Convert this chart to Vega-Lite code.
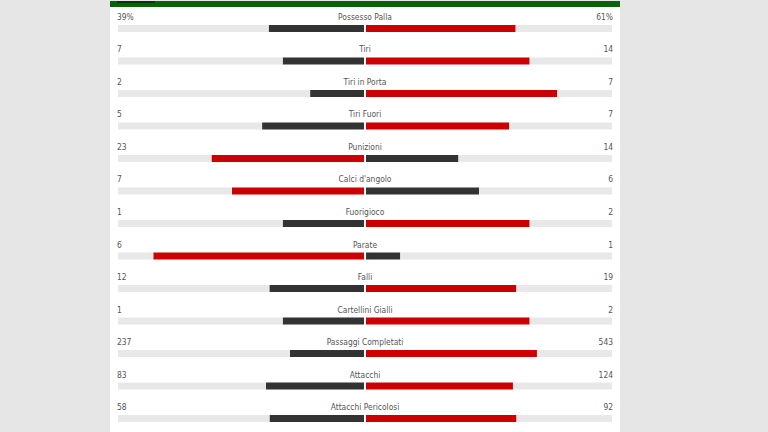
{
  "$schema": "https://vega.github.io/schema/vega-lite/v6.json",
  "width": 510,
  "height": 432,
  "padding": {"left": 110, "right": 148, "top": 0, "bottom": 0},
  "background": "#e6e6e6",
  "config": {"view": {"fill": "#ffffff", "stroke": null}},
  "data": {
    "values": [
      {"i": 0, "stat": "Possesso Palla", "home": 39, "away": 61, "homeLabel": "39%", "awayLabel": "61%"},
      {"i": 1, "stat": "Tiri", "home": 7, "away": 14, "homeLabel": "7", "awayLabel": "14"},
      {"i": 2, "stat": "Tiri in Porta", "home": 2, "away": 7, "homeLabel": "2", "awayLabel": "7"},
      {"i": 3, "stat": "Tiri Fuori", "home": 5, "away": 7, "homeLabel": "5", "awayLabel": "7"},
      {"i": 4, "stat": "Punizioni", "home": 23, "away": 14, "homeLabel": "23", "awayLabel": "14"},
      {"i": 5, "stat": "Calci d'angolo", "home": 7, "away": 6, "homeLabel": "7", "awayLabel": "6"},
      {"i": 6, "stat": "Fuorigioco", "home": 1, "away": 2, "homeLabel": "1", "awayLabel": "2"},
      {"i": 7, "stat": "Parate", "home": 6, "away": 1, "homeLabel": "6", "awayLabel": "1"},
      {"i": 8, "stat": "Falli", "home": 12, "away": 19, "homeLabel": "12", "awayLabel": "19"},
      {"i": 9, "stat": "Cartellini Gialli", "home": 1, "away": 2, "homeLabel": "1", "awayLabel": "2"},
      {"i": 10, "stat": "Passaggi Completati", "home": 237, "away": 543, "homeLabel": "237", "awayLabel": "543"},
      {"i": 11, "stat": "Attacchi", "home": 83, "away": 124, "homeLabel": "83", "awayLabel": "124"},
      {"i": 12, "stat": "Attacchi Pericolosi", "home": 58, "away": 92, "homeLabel": "58", "awayLabel": "92"}
    ]
  },
  "layer": [
    {
      "transform": [
        {"calculate": "datum.home / (datum.home + datum.away)", "as": "hs"},
        {"calculate": "datum.away / (datum.home + datum.away)", "as": "as"},
        {"calculate": "-datum.hs", "as": "homeBar"},
        {"calculate": "datum.hs - 1", "as": "homeRest"},
        {"calculate": "datum.as", "as": "awayBar"},
        {"calculate": "1 - datum.as", "as": "awayRest"},
        {"fold": ["homeBar", "homeRest", "awayBar", "awayRest"], "as": ["segment", "length"]},
        {"calculate": "datum.segment == 'homeBar' ? (datum.home > datum.away ? 'lead' : 'trail') : datum.segment == 'awayBar' ? (datum.away > datum.home ? 'lead' : 'trail') : 'track'", "as": "tone"},
        {"calculate": "datum.segment == 'homeBar' || datum.segment == 'awayBar' ? 0 : 1", "as": "ord"}
      ],
      "mark": {"type": "bar", "orient": "horizontal", "height": 7},
      "encoding": {
        "y": {"field": "i", "type": "quantitative", "scale": {"domain": [-0.846, 12.446], "reverse": true, "nice": false, "zero": false, "padding": 0}, "axis": null},
        "x": {"field": "length", "type": "quantitative", "stack": "zero", "scale": {"domain": [-1.0324, 1.0324], "nice": false, "zero": false, "padding": 0}, "axis": null},
        "order": {"field": "ord", "type": "quantitative"},
        "color": {"field": "tone", "type": "nominal", "scale": {"domain": ["lead", "trail", "track"], "range": ["#cc0000", "#333333", "#e8e8e8"]}, "legend": null}
      }
    },
    {
      "mark": {"type": "tick", "orient": "vertical", "size": 9, "thickness": 2, "color": "#ffffff", "opacity": 1},
      "encoding": {"y": {"field": "i", "type": "quantitative", "axis": null}, "x": {"datum": 0, "type": "quantitative", "axis": null}}
    },
    {
      "data": {"values": [{"part": "header"}]},
      "mark": {"type": "tick", "orient": "horizontal", "size": 510, "thickness": 6, "color": "#0a620a", "opacity": 1},
      "encoding": {"y": {"datum": -0.754, "type": "quantitative", "axis": null}, "x": {"datum": 0, "type": "quantitative", "axis": null}}
    },
    {
      "data": {"values": [{"part": "tab"}]},
      "mark": {"type": "tick", "orient": "horizontal", "size": 38, "thickness": 2, "color": "#053a05", "opacity": 1},
      "encoding": {"y": {"datum": -0.815, "type": "quantitative", "axis": null}, "x": {"datum": -0.927, "type": "quantitative", "axis": null}}
    },
    {
      "mark": {"type": "text", "align": "center", "baseline": "middle", "dy": -11.5, "font": "DejaVu Sans Condensed, DejaVu Sans", "fontSize": 8.4, "fill": "#555555"},
      "encoding": {"y": {"field": "i", "type": "quantitative", "axis": null}, "x": {"datum": 0, "type": "quantitative", "axis": null}, "text": {"field": "stat", "type": "nominal"}}
    },
    {
      "mark": {"type": "text", "align": "left", "baseline": "middle", "dy": -11.5, "dx": -1, "font": "DejaVu Sans Condensed, DejaVu Sans", "fontSize": 8.4, "fill": "#555555"},
      "encoding": {"y": {"field": "i", "type": "quantitative", "axis": null}, "x": {"datum": -1, "type": "quantitative", "axis": null}, "text": {"field": "homeLabel", "type": "nominal"}}
    },
    {
      "mark": {"type": "text", "align": "right", "baseline": "middle", "dy": -11.5, "dx": 1, "font": "DejaVu Sans Condensed, DejaVu Sans", "fontSize": 8.4, "fill": "#555555"},
      "encoding": {"y": {"field": "i", "type": "quantitative", "axis": null}, "x": {"datum": 1, "type": "quantitative", "axis": null}, "text": {"field": "awayLabel", "type": "nominal"}}
    }
  ]
}
